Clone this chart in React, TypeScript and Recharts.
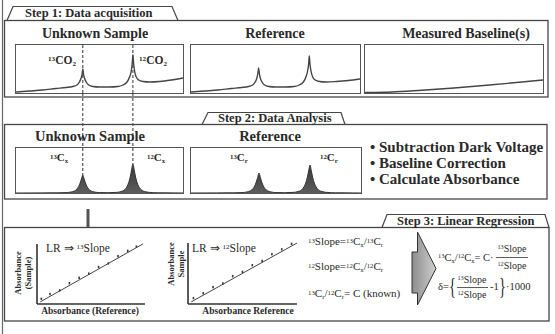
import React from "react";
import {
  LineChart,
  Line,
  AreaChart,
  Area,
  XAxis,
  YAxis,
  ScatterChart,
  Scatter,
  ReferenceLine,
} from "recharts";

// ---------------- data ----------------
// Step 1: raw transmission spectra (x = relative wavelength 0..100, y = signal)
const step1Grid = [0, 8, 16, 24, 30, 34, 36.5, 38, 39, 39.6, 40, 40.4, 41, 42, 43.5, 46, 50, 56, 61, 64, 66.5, 68, 69, 69.6, 70, 70.4, 71, 72, 73.5, 76, 80, 86, 93, 100];
const sampleRaw = [1, 2, 3, 4.5, 5.5, 6.5, 8, 11, 15, 19, 24, 19, 15, 11, 8, 6.5, 6, 6, 6.5, 8, 11, 16, 22, 30, 38, 30, 22, 16, 13, 11.5, 11, 11.5, 13, 15];
const referenceRaw = [1, 2, 3, 4.5, 5.5, 6.5, 8, 11, 15, 20, 25, 20, 15, 11, 8, 6.5, 6, 6, 6.5, 8, 11, 16, 22, 29, 37, 29, 22, 16, 13, 11.5, 11, 11.5, 12.5, 14];
const baselineGrid = [0, 15, 30, 50, 70, 85, 100];
const baselineRaw = [0.5, 1, 2.5, 5, 8, 10.5, 13];

// Step 2: absorbance spectra
const step2Grid = [0, 15, 25, 30, 33, 35, 36.5, 37.5, 38.4, 39.2, 40, 40.8, 41.6, 42.5, 43.5, 45, 47, 50, 55, 60, 63, 65, 66.5, 67.5, 68.4, 69.2, 70, 70.8, 71.6, 72.5, 73.5, 75, 77, 80, 85, 95, 100];
const sampleAbs = [0, 0.1, 0.2, 0.4, 1, 2, 4, 6.5, 10, 14, 18, 14, 10, 6.5, 4, 2, 1, 0.4, 0.3, 0.6, 1.5, 3.2, 6.5, 10.5, 16, 23, 29, 23, 16, 10.5, 6.5, 3.2, 1.5, 0.6, 0.2, 0.1, 0];
const referenceAbs = [0, 0.1, 0.2, 0.4, 1.1, 2.2, 4.4, 7.2, 11, 15.5, 20, 15.5, 11, 7.2, 4.4, 2.2, 1.1, 0.4, 0.3, 0.6, 1.5, 3.1, 6.3, 10, 15.5, 22, 28, 22, 15.5, 10, 6.3, 3.1, 1.5, 0.6, 0.2, 0.1, 0];
const peakPositions = [40, 70];
const samplePeakTops = [18, 29];

// Step 3: linear regressions
const lr13X = [0.4, 1.2, 2.1, 3.0, 3.9, 4.8, 5.7, 6.6, 7.5, 8.4, 9.2];
const lr13Y = [0.8, 1.6, 2.2, 3.4, 4.3, 5.0, 6.1, 6.7, 7.9, 8.8, 9.5];
const fit13X = [0.3, 9.8];
const fit13Y = [0.35, 10];
const lr12X = [0.5, 1.4, 2.3, 3.2, 4.1, 5.0, 5.9, 6.8, 7.7, 8.6, 9.5];
const lr12Y = [0.9, 1.7, 2.7, 3.3, 4.5, 5.2, 6.3, 7.0, 8.1, 8.9, 9.8];
const fit12X = [0.3, 10];
const fit12Y = [0.35, 10];

const zip = (xs: number[], ys: number[]) => xs.map((x, i) => ({ x, y: ys[i] }));

// ---------------- styling ----------------
const FONT = '"Liberation Serif", Tinos, serif';
const INK = "#2a2a2a";
const BOX = "#454545";

const Sup = ({ c }: { c: string }) => (
  <span style={{ fontSize: "0.62em", position: "relative", top: "-0.42em" }}>{c}</span>
);
const Sub = ({ c }: { c: string }) => (
  <span style={{ fontSize: "0.62em", position: "relative", top: "0.28em" }}>{c}</span>
);

function T({ x, y, size, bold = true, align = "left", w = 300, children, style }: any) {
  const left = align === "center" ? x - w / 2 : x;
  return (
    <div
      style={{
        position: "absolute",
        left,
        top: y - size * 0.6,
        width: w,
        height: size * 1.2,
        lineHeight: `${size * 1.2}px`,
        textAlign: align,
        fontSize: size,
        fontWeight: bold ? 700 : 400,
        fontFamily: FONT,
        color: INK,
        whiteSpace: "nowrap",
        ...style,
      }}
    >
      {children}
    </div>
  );
}

function RotLabel({ cx, cy, lines, size }: any) {
  return (
    <div
      style={{
        position: "absolute",
        left: cx - 40,
        top: cy - 10,
        width: 80,
        height: 20,
        transform: "rotate(-90deg)",
        transformOrigin: "50% 50%",
        textAlign: "center",
        fontFamily: FONT,
        fontWeight: 700,
        fontSize: size,
        lineHeight: "10px",
        color: INK,
        whiteSpace: "nowrap",
      }}
    >
      {lines.map((l: string) => (
        <div key={l}>{l}</div>
      ))}
    </div>
  );
}

function RawPanel({ left, top, width, height, data, guides }: any) {
  return (
    <div style={{ position: "absolute", left, top }}>
      <LineChart width={width} height={height} data={data} margin={{ top: 0, right: 0, bottom: 0, left: 0 }}>
        <XAxis type="number" dataKey="x" domain={[0, 100]} hide />
        <YAxis type="number" domain={[0, 48]} hide />
        {guides &&
          peakPositions.map((p) => (
            <ReferenceLine key={p} x={p} stroke="#333" strokeWidth={1} strokeDasharray="3 2" />
          ))}
        <Line type="monotone" dataKey="y" stroke="#454545" strokeWidth={1.4} dot={false} isAnimationActive={false} />
      </LineChart>
    </div>
  );
}

function AbsPanel({ left, top, width, height, data, guides, id }: any) {
  return (
    <div style={{ position: "absolute", left, top }}>
      <AreaChart width={width} height={height} data={data} margin={{ top: 0, right: 0, bottom: 0, left: 0 }}>
        <defs>
          <linearGradient id={id} x1="0" y1="0" x2="0" y2="1">
            <stop offset="0" stopColor="#3a3a3a" />
            <stop offset="1" stopColor="#5c5c5c" />
          </linearGradient>
        </defs>
        <XAxis type="number" dataKey="x" domain={[0, 100]} hide />
        <YAxis type="number" domain={[0, 45]} hide />
        <Area
          type="monotone"
          dataKey="y"
          stroke="#333"
          strokeWidth={1}
          fill={`url(#${id})`}
          fillOpacity={1}
          isAnimationActive={false}
        />
        {guides &&
          peakPositions.map((p, i) => (
            <ReferenceLine
              key={p}
              segment={[
                { x: p, y: 45 },
                { x: p, y: samplePeakTops[i] },
              ]}
              stroke="#333"
              strokeWidth={1}
              strokeDasharray="3 2"
            />
          ))}
      </AreaChart>
    </div>
  );
}

const DotShape = (p: any) => (
  <rect x={p.cx - 0.8} y={p.cy - 1.6} width={1.6} height={2.4} fill="#3a3a3a" />
);
const NoShape = () => <g />;

function LRPanel({ left, top, width, height, points, fit }: any) {
  return (
    <div style={{ position: "absolute", left, top }}>
      <ScatterChart width={width} height={height} margin={{ top: 2, right: 2, bottom: 0, left: 0 }}>
        <XAxis
          type="number"
          dataKey="x"
          domain={[0, 10]}
          tick={false}
          tickLine={false}
          height={1}
          axisLine={{ stroke: "#333", strokeWidth: 1.6 }}
        />
        <YAxis
          type="number"
          dataKey="y"
          domain={[0, 10]}
          tick={false}
          tickLine={false}
          width={1}
          axisLine={{ stroke: "#333", strokeWidth: 1.6 }}
        />
        <Scatter data={fit} line={{ stroke: "#444", strokeWidth: 1 }} shape={NoShape} isAnimationActive={false} />
        <Scatter data={points} shape={DotShape} isAnimationActive={false} />
      </ScatterChart>
    </div>
  );
}

export default function App() {
  const s1Sample = zip(step1Grid, sampleRaw);
  const s1Ref = zip(step1Grid, referenceRaw);
  const s1Base = zip(baselineGrid, baselineRaw);
  const s2Sample = zip(step2Grid, sampleAbs);
  const s2Ref = zip(step2Grid, referenceAbs);
  const pts13 = zip(lr13X, lr13Y);
  const pts12 = zip(lr12X, lr12Y);
  const line13 = zip(fit13X, fit13Y);
  const line12 = zip(fit12X, fit12Y);

  return (
    <div
      style={{
        position: "absolute",
        left: 0,
        top: 0,
        width: 555,
        height: 334,
        background: "#fff",
        overflow: "hidden",
        fontFamily: FONT,
      }}
    >
      <svg width={555} height={334} style={{ position: "absolute", left: 0, top: 0 }}>
        <defs>
          <linearGradient id="arrowFill" x1="0" y1="0" x2="1" y2="0">
            <stop offset="0" stopColor="#8c8c8c" />
            <stop offset="1" stopColor="#cfcfcf" />
          </linearGradient>
        </defs>
        <line x1={2.5} y1={0} x2={2.5} y2={334} stroke="#666" strokeWidth={1.2} />
        {/* Step 1 */}
        <path d="M7 20.5 L13 6.5 L172 6.5 L178 20.5" fill="#fff" stroke={BOX} strokeWidth={1.2} />
        <rect x={4.5} y={20.5} width={543.5} height={76.5} fill="none" stroke={BOX} strokeWidth={1.3} />
        <rect x={15.5} y={44.5} width={168} height={49} fill="none" stroke="#555" strokeWidth={1} />
        <rect x={190.5} y={44.5} width={170} height={49} fill="none" stroke="#555" strokeWidth={1} />
        <rect x={364.5} y={44.5} width={179} height={49} fill="none" stroke="#555" strokeWidth={1} />
        {/* guides between steps */}
        <line x1={82.8} y1={93} x2={82.8} y2={148} stroke="#333" strokeDasharray="3 2" />
        <line x1={132.9} y1={93} x2={132.9} y2={148} stroke="#333" strokeDasharray="3 2" />
        {/* Step 2 */}
        <path d="M202 124.5 L208 112.5 L341 112.5 L345 124.5" fill="#fff" stroke={BOX} strokeWidth={1.2} />
        <rect x={4.5} y={124.5} width={542.5} height={74.5} fill="none" stroke={BOX} strokeWidth={1.3} />
        <rect x={15.5} y={147.5} width={168} height={46} fill="none" stroke="#555" strokeWidth={1} />
        <rect x={190.5} y={147.5} width={171} height={46} fill="none" stroke="#555" strokeWidth={1} />
        {/* connector */}
        <rect x={86.5} y={209} width={3} height={19} fill="#555" />
        {/* Step 3 */}
        <path d="M382 227.5 L387 214.5 L545 214.5 L549 227.5" fill="#fff" stroke={BOX} strokeWidth={1.2} />
        <rect x={4.5} y={227.5} width={544.5} height={93.5} fill="none" stroke={BOX} strokeWidth={1.3} />
        <path
          d="M412 252 L417.5 252 L417.5 232 L436 268.5 L417.5 305 L417.5 293 L412 293 Z"
          fill="url(#arrowFill)"
          stroke="#333"
          strokeWidth={1}
        />
        <line x1={496} y1={257.5} x2={528} y2={257.5} stroke="#333" strokeWidth={0.8} />
        <line x1={457} y1={287.5} x2={488} y2={287.5} stroke="#333" strokeWidth={0.8} />
      </svg>

      {/* Step 1 */}
      <T x={25} y={13.5} size={12.5}>Step 1: Data acquisition</T>
      <T x={95} y={34} size={14} align="center">Unknown Sample</T>
      <T x={275} y={34} size={14} align="center">Reference</T>
      <T x={466} y={34} size={14} align="center">Measured Baseline(s)</T>
      <RawPanel left={16} top={45} width={167} height={48} data={s1Sample} guides />
      <RawPanel left={191} top={45} width={169} height={48} data={s1Ref} />
      <RawPanel left={365} top={45} width={178} height={48} data={s1Base} />
      <T x={48} y={61} size={11.5}>
        <Sup c="13" />CO<Sub c="2" />
      </T>
      <T x={139} y={61} size={11.5}>
        <Sup c="12" />CO<Sub c="2" />
      </T>

      {/* Step 2 */}
      <T x={218} y={118.5} size={12.5}>Step 2: Data Analysis</T>
      <T x={90} y={137} size={14.5} align="center">Unknown Sample</T>
      <T x={270} y={137} size={14.5} align="center">Reference</T>
      <AbsPanel left={16} top={148} width={167} height={45} data={s2Sample} guides id="fillS" />
      <AbsPanel left={191} top={148} width={170} height={45} data={s2Ref} id="fillR" />
      <T x={50} y={158} size={11}>
        <Sup c="13" />C<Sub c="x" />
      </T>
      <T x={147} y={158} size={11}>
        <Sup c="12" />C<Sub c="x" />
      </T>
      <T x={230} y={158} size={11}>
        <Sup c="13" />C<Sub c="r" />
      </T>
      <T x={320} y={158} size={11}>
        <Sup c="12" />C<Sub c="r" />
      </T>
      <T x={370} y={147} size={15}>• Subtraction Dark Voltage</T>
      <T x={370} y={163} size={15}>• Baseline Correction</T>
      <T x={370} y={179} size={15}>• Calculate Absorbance</T>

      {/* Step 3 */}
      <T x={397} y={221} size={12.5}>Step 3: Linear Regression</T>
      <LRPanel left={36} top={242} width={111} height={63} points={pts13} fit={line13} />
      <LRPanel left={187} top={241} width={112} height={64} points={pts12} fit={line12} />
      <T x={46} y={249} size={11.5} bold={false}>
        LR ⇒ <Sup c="13" />Slope
      </T>
      <T x={192} y={249} size={11.5} bold={false}>
        LR ⇒ <Sup c="12" />Slope
      </T>
      <RotLabel cx={23} cy={273} lines={["Absorbance", "(Sample)"]} size={8.5} />
      <RotLabel cx={176} cy={264} lines={["Absorbance", "Sample"]} size={8.5} />
      <T x={90} y={312} size={9.5} align="center">Absorbance (Reference)</T>
      <T x={248} y={312} size={9.5} align="center">Absorbance Reference</T>

      <T x={308} y={242} size={11} bold={false}>
        <Sup c="13" />Slope=<Sup c="13" />C<Sub c="x" />/<Sup c="13" />C<Sub c="r" />
      </T>
      <T x={308} y={267} size={11} bold={false}>
        <Sup c="12" />Slope=<Sup c="12" />C<Sub c="x" />/<Sup c="12" />C<Sub c="r" />
      </T>
      <T x={308} y={294} size={11} bold={false}>
        <Sup c="13" />C<Sub c="r" />/<Sup c="12" />C<Sub c="r" />= C (known)
      </T>

      <T x={438} y={258} size={10.5} bold={false}>
        <Sup c="13" />C<Sub c="x" />/<Sup c="12" />C<Sub c="x" />= C·
      </T>
      <T x={512} y={249} size={10} bold={false} align="center" w={60}>
        <Sup c="13" />Slope
      </T>
      <T x={512} y={266} size={10} bold={false} align="center" w={60}>
        <Sup c="12" />Slope
      </T>

      <T x={438} y={287} size={10.5} bold={false}>δ=</T>
      <T x={449} y={286} size={24} bold={false} style={{ transform: "scaleX(0.6)", transformOrigin: "0 50%" }}>
        {"{"}
      </T>
      <T x={472} y={280} size={10} bold={false} align="center" w={60}>
        <Sup c="13" />Slope
      </T>
      <T x={472} y={295} size={10} bold={false} align="center" w={60}>
        <Sup c="12" />Slope
      </T>
      <T x={490} y={287} size={10.5} bold={false}>-1</T>
      <T x={499} y={286} size={24} bold={false} style={{ transform: "scaleX(0.6)", transformOrigin: "0 50%" }}>
        {"}"}
      </T>
      <T x={506} y={287} size={10.5} bold={false}>·1000</T>
    </div>
  );
}
